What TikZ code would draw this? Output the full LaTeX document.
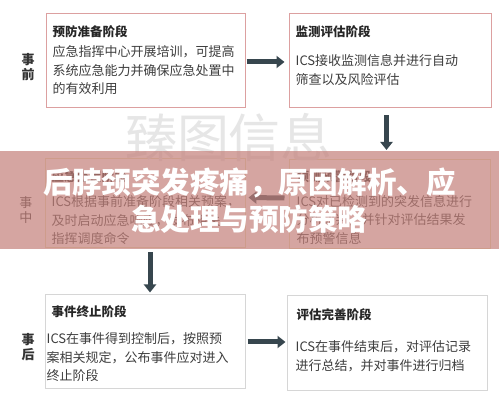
\documentclass[tikz,border=0pt]{standalone}
\usepackage{fontspec}
\setmainfont{Noto Sans CJK SC}
\usetikzlibrary{calc,arrows.meta}
\definecolor{pinkline}{RGB}{220,160,160}
\definecolor{sandline}{RGB}{232,222,182}
\definecolor{greyline}{RGB}{214,214,214}
\definecolor{slate}{RGB}{55,70,78}
\definecolor{bannerred}{RGB}{196,128,122}
\definecolor{bodytext}{RGB}{62,62,62}
\definecolor{markgrey}{RGB}{230,230,230}
\tikzset{
	stagebox/.style={draw=#1, line width=1pt, inner sep=0pt},
	stagetitle/.style={anchor=west, inner sep=0pt, font=\bfseries\fontsize{12.5}{15}\selectfont, text=black!85},
	stagebody/.style={anchor=north west, inner sep=0pt, align=left, font=\fontsize{13}{18.5}\selectfont, text=bodytext},
	sidelabel/.style={inner sep=0pt, align=center, font=\bfseries\fontsize{13}{15}\selectfont, text=black!80},
	flow/.style={slate, line width=5pt, -{Triangle[length=8pt,width=12pt]}}
}

\begin{document}
\begin{tikzpicture}[x=1pt, y=-1pt]
		%%%%% START %%%%%
		\useasboundingbox[fill=white] (0,0) rectangle (499,401);
		
		% boxes
		\node[stagebox=pinkline, minimum width=199pt, minimum height=94pt] (b1) at (145.5,61) {};
		\node[stagebox=pinkline, minimum width=202pt, minimum height=94pt] (b2) at (390,61) {};
		\node[stagebox=sandline, minimum width=200pt, minimum height=89pt] (b3) at (145,203.5) {};
		\node[stagebox=sandline, minimum width=201pt, minimum height=89pt] (b4) at (389.5,204) {};
		\node[stagebox=greyline, minimum width=200pt, minimum height=94pt] (b5) at (145,342) {};
		\node[stagebox=greyline, minimum width=200pt, minimum height=95pt] (b6) at (387,343.5) {};
		
		% texts
		\node[stagetitle] (t1) at ($(b1.north west)+(7,18)$) {预防准备阶段};
		\node[stagebody] (s1) at ($(b1.north west)+(7,32)$) {应急指挥中心开展培训，可提高\\系统应急能力并确保应急处置中\\的有效利用};
		\node[stagetitle] (t2) at ($(b2.north west)+(7,18)$) {监测评估阶段};
		\node[stagebody] (s2) at ($(b2.north west)+(7,41)$) {ICS接收监测信息并进行自动\\筛查以及风险评估};
		\node[stagetitle] (t3) at ($(b3.north west)+(7,18)$) {应急处置阶段};
		\node[stagebody] (s3) at ($(b3.north west)+(7,37)$) {ICS根据事前准备阶段相关预案，\\及时启动应急响应，发布相关\\指挥调度命令};
		\node[stagetitle] (t4) at ($(b4.north west)+(8,18)$) {预测预警阶段};
		\node[stagebody] (s4) at ($(b4.north west)+(8,36)$) {ICS对已检测到的突发信息进行\\分析研判，并针对评估结果发\\布预警信息};
		\node[stagetitle] (t5) at ($(b5.north west)+(7,17)$) {事件终止阶段};
		\node[stagebody] (s5) at ($(b5.north west)+(2,38)$) {ICS在事件得到控制后，按照预\\案相关规定，公布事件应对进入\\终止阶段};
		\node[stagetitle] (t6) at ($(b6.north west)+(10,19)$) {评估完善阶段};
		\node[stagebody] (s6) at ($(b6.north west)+(9,45)$) {ICS在事件结束后，对评估记录\\进行总结，并对事件进行归档};
		
		\node[sidelabel] (before) at (28,67) {事\\前};
		\node[sidelabel, font=\fontsize{13}{15}\selectfont] (during) at (26,210) {事\\中};
		\node[sidelabel] (after) at (28,347) {事\\后};
		
		% arrows
		\draw[flow] ([xshift=1pt,yshift=-1pt]b1.east) -- ([xshift=-4pt,yshift=-1pt]b2.west);
		\draw[flow] ([xshift=-3.5pt,yshift=-7pt]b2.south) -- ([xshift=-3pt,yshift=9pt]b4.north);
		\draw[flow] ([xshift=-4pt,yshift=6pt]b4.west) -- ([xshift=3pt,yshift=6pt]b3.east);
		\draw[flow] ([xshift=5pt,yshift=-4pt]b3.south) -- ([xshift=5pt,yshift=2pt]b5.north);
		\draw[flow] ([xshift=2pt]b5.east) -- ($(b5.east -| b6.west)+(-1,0)$);
		
		% watermark
		\node[font=\fontsize{52}{52}\selectfont, text=markgrey] (mark) at (229,138) {臻图信息};
		
		% banner
		\fill[bannerred, opacity=0.7] (0,151) rectangle (499,249);
		\node[align=center, inner sep=0pt, text=white, font=\bfseries\fontsize{29.5}{37}\selectfont] (headline) at (249.5,201) {后脖颈突发疼痛，原因解析、应\\急处理与预防策略};
		
		%%%%% END %%%%%
	\end{tikzpicture}
\end{document}
